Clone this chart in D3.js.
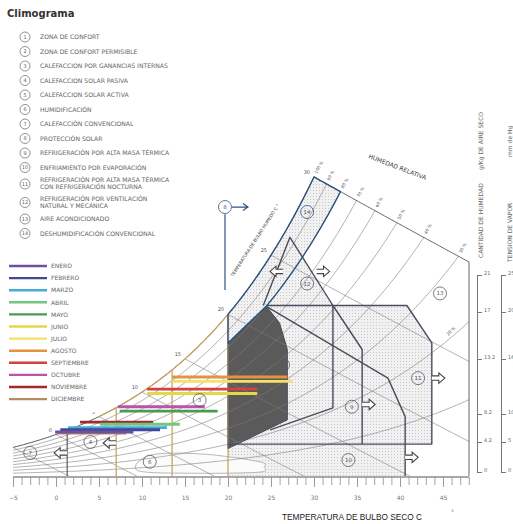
<!DOCTYPE html>
<html>
<head>
<meta charset="utf-8">
<title>Climograma</title>
<script src="https://cdn.jsdelivr.net/npm/d3@7"></script>
<style>
  body { margin: 0; background: #fff; }
  svg { display: block; }
</style>
</head>
<body>
<div id="chart"></div>
<script>
// ---- data ----
// months: dry bulb range (C) and humidity ratio (g/kg)
const months = ['ENERO', 'FEBRERO', 'MARZO', 'ABRIL', 'MAYO', 'JUNIO', 'JULIO', 'AGOSTO', 'SEPTIEMBRE', 'OCTUBRE', 'NOVIEMBRE', 'DICIEMBRE'];
const monthColors = ['#6f4ea3', '#3f4a94', '#45abdc', '#72c67f', '#479c4f', '#e2d84c', '#f1e26a', '#e8923c', '#d2433b', '#bb52ac', '#9f2a2e', '#b58d5c'];
const tempMin = [-0.1, 0.5, 1.4, 5.1, 7.4, 10.6, 13.5, 13.5, 10.6, 7.2, 2.8, 0.3];
const tempMax = [9.0, 12.1, 12.9, 14.4, 18.8, 23.4, 27.5, 26.9, 23.4, 17.3, 11.3, 8.2];
const humidity = [4.0, 4.2, 4.4, 4.7, 5.9, 7.5, 8.6, 9.0, 7.9, 6.3, 4.9, 3.9];

// zone legend
const zoneNames = [
  ['ZONA DE CONFORT'],
  ['ZONA DE CONFORT PERMISIBLE'],
  ['CALEFACCION POR GANANCIAS INTERNAS'],
  ['CALEFACCION SOLAR PASIVA'],
  ['CALEFACCION SOLAR ACTIVA'],
  ['HUMIDIFICACIÓN'],
  ['CALEFACCIÓN CONVENCIONAL'],
  ['PROTECCIÓN SOLAR'],
  ['REFRIGERACIÓN POR ALTA MASA TÉRMICA'],
  ['ENFRIAMIENTO POR EVAPORACIÓN'],
  ['REFRIGERACIÓN POR ALTA MASA TÉRMICA', 'CON REFRIGERACIÓN NOCTURNA'],
  ['REFRIGERACIÓN POR VENTILACIÓN', 'NATURAL Y MECÁNICA'],
  ['AIRE ACONDICIONADO'],
  ['DESHUMIDIFICACIÓN CONVENCIONAL']
];

// axes
const tempTicks = [-5, 0, 5, 10, 15, 20, 25, 30, 35, 40, 45];
const rhCurves = [10, 20, 30, 40, 50, 60, 70, 80, 90, 100];
const wetBulbs = [-5, 0, 5, 10, 15, 20, 25];
const wetBulbLabels = [0, 5, 10, 15, 20, 25, 30];
const humTicks = [0, 4.2, 8.2, 13.2, 17, 21];
const vapourTicks = [0, 5, 10, 16, 20, 25];

// zone outlines, [temperature C, humidity g/kg]
const zone1 = [[20, 12.1], [24.5, 15.4], [26, 13.9], [26.9, 11.5], [26.9, 5.1], [20, 2.5]];
const zoneFill = [[20, 0], [20, 12.1], [24.5, 15.5], [40.8, 15.5], [43.7, 12.1], [43.7, 2.9], [40.6, 2.9], [40.6, 0]];
const zone11 = [[24.5, 15.5], [40.8, 15.5], [43.7, 12.1], [43.7, 2.9], [20, 2.9]];
const zone9 = [[32.2, 15.5], [35.6, 11.5], [35.6, 2.9]];
const zone2 = [[32.2, 15.5], [32.2, 6.2], [24.9, 4.2]];
const zone10 = [[24.5, 15.4], [38.6, 8.9], [40.6, 5.4], [40.6, 0]];
const zone12 = [[24.1, 15.5], [27.2, 21.7], [32.2, 15.5]];
const zone6 = [[9.5, 0.5], [11, 1.9], [17, 2.0], [23.6, 1.3], [24.2, 0.8], [23.6, 0.35], [16, 0.25]];
const zone8 = [[19.65, 16.9], [19.65, 23.8]];
const zoneLabels = [
  { n: 1, t: 26.4, w: 10.1 }, { n: 3, t: 16.7, w: 6.9 }, { n: 4, t: 4.0, w: 3.1 },
  { n: 6, t: 10.9, w: 1.3 }, { n: 7, t: -3.0, w: 2.1 }, { n: 8, t: 19.65, w: 24.45 },
  { n: 9, t: 34.4, w: 6.3 }, { n: 10, t: 34.0, w: 1.45 }, { n: 11, t: 42.1, w: 8.9 },
  { n: 12, t: 29.2, w: 17.5 }, { n: 13, t: 44.65, w: 16.6 }, { n: 14, t: 29.2, w: 24.0 }
];
const zoneArrows = [
  { t: 43.7, w: 8.9, dir: 1 }, { t: 35.6, w: 6.5, dir: 1 }, { t: 40.6, w: 1.7, dir: 1 },
  { t: 1.3, w: 2.1, dir: -1 }, { t: 7, w: 3.0, dir: -1 },
  { t: 26.4, w: 18.6, dir: -1 }, { t: 30.3, w: 18.6, dir: 1 }
];

// ---- psychrometrics ----
const P = 101.325;
function pSat(t) { return 0.61078 * Math.exp(17.27 * t / (t + 237.3)); }
function wRH(t, rh) { const p = rh * pSat(t); return 622 * p / (P - p); }
function wWB(t, twb) {
  const ws = wRH(twb, 1) / 1000;
  return 1000 * ((2501 - 2.326 * twb) * ws - 1.006 * (t - twb)) / (2501 + 1.86 * t - 4.186 * twb);
}

// ---- layout ----
const width = 513, height = 524;
const svg = d3.select('#chart').append('svg')
  .attr('width', width).attr('height', height)
  .style('font-family', 'DejaVu Sans, sans-serif');

const x = d3.scaleLinear().domain([-5, 45]).range([13, 443]);
const y = d3.scaleLinear().domain([0, 10]).range([476, 366]);
const tRight = x.invert(469);

const line = d3.line().x(d => x(d[0])).y(d => y(d[1]));
function sample(f, t0, t1, step = 0.2) {
  const pts = d3.range(t0, t1, step).map(t => [t, f(t)]);
  pts.push([t1, f(t1)]);
  return pts;
}
// where an RH curve meets the 30 C wet bulb boundary
function crossTop(rh) {
  let a = 30, b = tRight;
  if (wRH(b, rh) < wWB(b, 30)) return null;
  for (let i = 0; i < 40; i++) {
    const m = (a + b) / 2;
    if (wRH(m, rh) < wWB(m, 30)) a = m; else b = m;
  }
  return a;
}

const defs = svg.append('defs');
const pat = defs.append('pattern').attr('id', 'dots')
  .attr('width', 3).attr('height', 3).attr('patternUnits', 'userSpaceOnUse');
pat.append('rect').attr('width', 3).attr('height', 3).attr('fill', '#f1f1f1');
pat.append('circle').attr('cx', 1.5).attr('cy', 1.5).attr('r', 0.55).attr('fill', '#c2c2c2');

const topY = y(wWB(20, 30));
defs.append('clipPath').attr('id', 'plot')
  .append('path')
  .attr('d', d3.line()([[x(-5), y(0)], [x(-5), topY], [x(20), topY],
    [x(tRight), y(wWB(tRight, 30))], [x(tRight), y(0)]]) + 'Z');

// ---- zone fills ----
const zones = svg.append('g');
const t14 = crossTop(0.8);
const zone14 = sample(t => wRH(t, 1), 20, 30)
  .concat(sample(t => wWB(t, 30), 30, t14))
  .concat(sample(t => wRH(t, 0.8), 24.5, t14).reverse())
  .concat([[20, 12.1]]);

zones.append('path').attr('d', line(zoneFill) + 'Z').attr('fill', 'url(#dots)');
zones.append('path').attr('d', line(zone12) + 'Z').attr('fill', 'url(#dots)');
zones.append('path').attr('d', line(zone14) + 'Z').attr('fill', 'url(#dots)');
zones.append('path').attr('d', line(zone1) + 'Z').attr('fill', '#5a5a5a');
zones.append('path')
  .attr('d', d3.line().x(d => x(d[0])).y(d => y(d[1])).curve(d3.curveCardinalClosed)(zone6))
  .attr('fill', '#fbfbfb').attr('stroke', '#999').attr('stroke-width', 0.7);

// ---- psychrometric grid ----
const grid = svg.append('g').attr('clip-path', 'url(#plot)').attr('fill', 'none');
grid.selectAll('.rh').data(rhCurves).join('path')
  .attr('d', rh => line(sample(t => wRH(t, rh / 100), -5, tRight)))
  .attr('stroke', rh => rh === 100 ? '#555' : '#7d7d7d')
  .attr('stroke-width', rh => rh === 100 ? 1 : 0.6);
grid.selectAll('.wb').data(wetBulbs).join('path')
  .attr('d', tw => line(sample(t => wWB(t, tw), tw, tRight)))
  .attr('stroke', '#7d7d7d').attr('stroke-width', 0.6);

// upper boundary (30 C wet bulb) and right edge
svg.append('path').attr('fill', 'none').attr('stroke', '#555').attr('stroke-width', 0.9)
  .attr('d', line(sample(t => wWB(t, 30), 30, tRight).concat([[tRight, 0]])));

// tan saturation segment and vertical limits of heating zones
const tan = '#c9a464';
svg.append('path').attr('fill', 'none').attr('stroke', tan).attr('stroke-width', 1.3)
  .attr('d', line(sample(t => wRH(t, 1), 5, 20)));
[7, 13.5, 20].forEach(t => {
  svg.append('line').attr('x1', x(t)).attr('x2', x(t)).attr('y1', y(0)).attr('y2', y(wRH(t, 1)))
    .attr('stroke', tan).attr('stroke-width', 1.3);
});
svg.append('line').attr('x1', x(1.3)).attr('x2', x(1.3)).attr('y1', y(0)).attr('y2', y(wRH(1.3, 1)))
  .attr('stroke', '#5a5a5a').attr('stroke-width', 1.2);

// ---- zone outlines ----
const outline = svg.append('g').attr('fill', 'none').attr('stroke', '#4b4c5f')
  .attr('stroke-width', 1.4).attr('stroke-linejoin', 'round');
outline.append('path').attr('d', line(zone11));
outline.append('path').attr('d', line(zone9));
outline.append('path').attr('d', line(zone2));
outline.append('path').attr('d', line(zone10));
outline.append('path').attr('d', line(zone12));
outline.append('path').attr('d', line(zone1) + 'Z').attr('stroke-width', 1);
outline.append('path').attr('d', line(zone14) + 'Z').attr('stroke', '#2f5381').attr('stroke-width', 1.4);
outline.append('path').attr('d', line(zone8)).attr('stroke', '#2f5381').attr('stroke-width', 1.2);

// solar protection arrow
const a8 = zoneLabels.find(d => d.n === 8);
svg.append('path').attr('fill', 'none').attr('stroke', '#2f5381').attr('stroke-width', 1.2)
  .attr('d', `M${x(a8.t) + 7},${y(a8.w)} H${x(a8.t) + 23} M${x(a8.t) + 18},${y(a8.w) - 3.5} L${x(a8.t) + 23},${y(a8.w)} L${x(a8.t) + 18},${y(a8.w) + 3.5}`);

// block arrows
svg.selectAll('.arrow').data(zoneArrows).join('path')
  .attr('d', d => {
    const px = x(d.t), py = y(d.w), s = d.dir;
    return `M${px},${py - 2.2} h${s * 7} v-3 l${s * 6},5.2 l${-s * 6},5.2 v-3 h${-s * 7}`;
  })
  .attr('fill', '#fff').attr('stroke', '#444').attr('stroke-width', 1.1);

// ---- month lines ----
const monthIdx = d3.range(months.length).reverse();
svg.append('g').selectAll('line').data(monthIdx).join('line')
  .attr('x1', i => x(tempMin[i])).attr('x2', i => x(tempMax[i]))
  .attr('y1', i => y(humidity[i])).attr('y2', i => y(humidity[i]))
  .attr('stroke', i => monthColors[i]).attr('stroke-width', 2.9);

// zone number circles
const circ = svg.append('g').selectAll('g').data(zoneLabels).join('g')
  .attr('transform', d => `translate(${x(d.t)},${y(d.w)})`);
circ.append('circle').attr('r', 6.5).attr('fill', 'none')
  .attr('stroke', d => d.n === 8 || d.n === 14 ? '#2f5381' : '#5a5a5a').attr('stroke-width', 0.8);
circ.append('text').text(d => d.n).attr('text-anchor', 'middle').attr('dy', 2)
  .attr('font-size', 5.5).attr('fill', '#555');

// ---- labels on the chart ----
const lab = svg.append('g').attr('fill', '#444');
wetBulbLabels.forEach(t => {
  lab.append('text').text(t).attr('x', x(t) - 4).attr('y', y(wRH(t, 1)) - 3)
    .attr('text-anchor', 'end').attr('font-size', 5).attr('fill', '#555');
});
rhCurves.filter(rh => crossTop(rh / 100) !== null).forEach(rh => {
  const t = crossTop(rh / 100);
  const px = x(t) + 3, py = y(wWB(t, 30)) - 3;
  lab.append('text').text(rh + ' %').attr('font-size', 4.2)
    .attr('transform', `translate(${px},${py}) rotate(-62)`);
});
{
  const t = 45.6, px = x(t), py = y(wRH(t, 0.2)) - 4;
  lab.append('text').text('20 %').attr('font-size', 4.2)
    .attr('transform', `translate(${px},${py}) rotate(-45)`);
}
lab.append('text').text('HUMEDAD RELATIVA').attr('font-size', 6).attr('fill', '#333')
  .attr('transform', 'translate(368,158) rotate(21)');
lab.append('text').text('TEMPERATURA DE BULBO HUMEDO  C  °').attr('font-size', 4.4)
  .attr('transform', `translate(${x(20.6)},${y(18.1)}) rotate(-57)`);

// ---- white box behind the month legend ----
svg.append('rect').attr('x', 0).attr('y', 255).attr('width', 106).attr('height', 157).attr('fill', '#fff');

// ---- bottom axis ----
const axisG = svg.append('g');
axisG.append('line').attr('x1', x(-5)).attr('x2', x(tRight)).attr('y1', y(0) + 1).attr('y2', y(0) + 1)
  .attr('stroke', '#8c8c8c').attr('stroke-width', 1.6);
const minor = axisG.append('g').attr('transform', `translate(0,${y(0) + 1})`)
  .call(d3.axisBottom(x).tickValues(d3.range(-5, 49)).tickSize(8).tickFormat(''));
const major = axisG.append('g').attr('transform', `translate(0,${y(0) + 1})`)
  .call(d3.axisBottom(x).tickValues(tempTicks).tickSize(10).tickPadding(9));
[minor, major].forEach(g => {
  g.select('.domain').remove();
  g.selectAll('.tick line').attr('stroke', '#999').attr('stroke-width', 0.9);
});
major.selectAll('.tick text').attr('font-size', 6).attr('fill', '#777')
  .attr('font-family', 'DejaVu Sans, sans-serif');
svg.append('text').text('TEMPERATURA DE BULBO SECO  C').attr('x', 282).attr('y', 520)
  .attr('font-family', 'Liberation Sans, Arial, sans-serif').attr('font-size', 8.3).attr('fill', '#222');
svg.append('text').text('°').attr('x', 451).attr('y', 514).attr('font-size', 6).attr('fill', '#666');

// ---- right axes ----
const yHum = d3.scaleLinear().domain(humTicks).range([472, 442, 414, 359, 312, 275]);
const yVap = d3.scaleLinear().domain(vapourTicks).range([472, 442, 414, 359, 312, 275]);
function sideAxis(scale, ticks, px) {
  const g = svg.append('g').attr('transform', `translate(${px},0)`)
    .call(d3.axisRight(scale).tickValues(ticks).tickSize(5).tickSizeOuter(0).tickPadding(2)
      .tickFormat(d => String(d).replace('.', ',')));
  g.select('.domain').attr('stroke', '#777');
  g.selectAll('.tick line').attr('stroke', '#777');
  g.selectAll('.tick text').attr('font-size', 5).attr('fill', '#666').attr('dy', '-0.2em')
    .attr('font-family', 'DejaVu Sans, sans-serif');
}
sideAxis(yHum, humTicks, 477);
sideAxis(yVap, vapourTicks, 501);

const side = svg.append('g').attr('fill', '#666').attr('font-size', 6);
side.append('text').text('CANTIDAD DE HUMEDAD').attr('transform', 'translate(483,258) rotate(-90)');
side.append('text').text('g/Kg DE AIRE SECO').attr('transform', 'translate(483,170) rotate(-90)');
side.append('text').text('TENSION DE VAPOR').attr('transform', 'translate(512,262) rotate(-90)');
side.append('text').text('mm de Hg').attr('transform', 'translate(512,157) rotate(-90)');

// ---- title ----
svg.append('text').text('Climograma').attr('x', 7).attr('y', 17)
  .attr('font-size', 10).attr('font-weight', 'bold').attr('fill', '#333');

// ---- zone legend ----
let rowY = 37;
const rows = zoneNames.map((d, i) => {
  if (i > 0) rowY += 14.5 + (d.length > 1 ? 2 : 0) + (zoneNames[i - 1].length > 1 ? 2 : 0);
  return rowY;
});
const zl = svg.append('g').selectAll('g').data(zoneNames).join('g')
  .attr('transform', (d, i) => `translate(0,${rows[i]})`);
zl.append('circle').attr('cx', 25).attr('r', 5).attr('fill', 'none').attr('stroke', '#777').attr('stroke-width', 0.8);
zl.append('text').text((d, i) => i + 1).attr('x', 25).attr('dy', 1.8)
  .attr('text-anchor', 'middle').attr('font-size', 5).attr('fill', '#666');
zl.each(function (d) {
  const g = d3.select(this);
  d.forEach((s, k) => {
    g.append('text').text(s).attr('x', 40).attr('y', d.length > 1 ? (k === 0 ? -1.6 : 5.4) : 2)
      .attr('font-size', 6.1).attr('fill', '#666');
  });
});

// ---- month legend ----
const ml = svg.append('g').selectAll('g').data(months).join('g')
  .attr('transform', (d, i) => `translate(0,${266 + 12.1 * i})`);
ml.append('line').attr('x1', 9).attr('x2', 47).attr('stroke', (d, i) => monthColors[i]).attr('stroke-width', 2.4);
ml.append('text').text(d => d).attr('x', 51).attr('y', 2.2).attr('font-size', 6).attr('fill', '#666');
</script>
</body>
</html>
